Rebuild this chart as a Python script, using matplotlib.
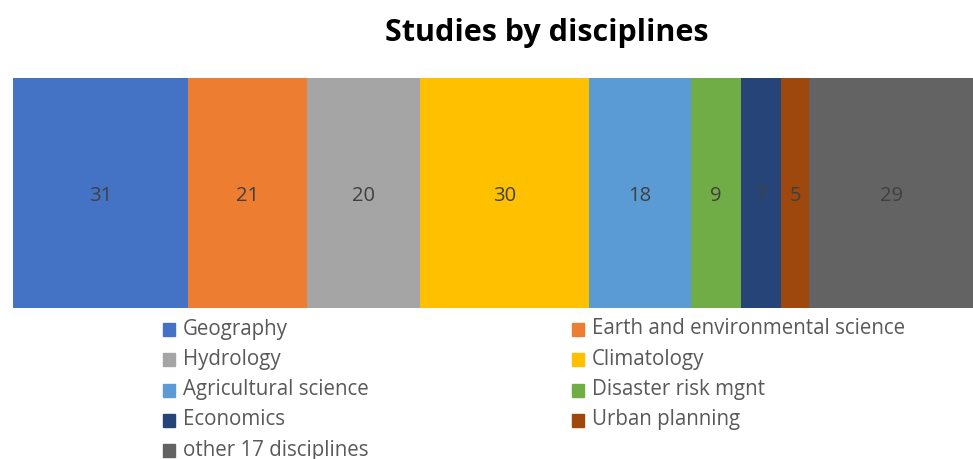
import matplotlib.pyplot as plt
from matplotlib.patches import Rectangle

disciplines = ["Geography", "Earth and environmental science", "Hydrology",
               "Climatology", "Agricultural science", "Disaster risk mgnt",
               "Economics", "Urban planning", "other 17 disciplines"]
studies = [31, 21, 20, 30, 18, 9, 7, 5, 29]
colors = ["#4472C4", "#ED7D31", "#A5A5A5", "#FFC000", "#5B9BD5",
          "#70AD47", "#264478", "#9E480E", "#636363"]

plt.rcParams['font.family'] = ['Open Sans', 'DejaVu Sans']

W, H = 973, 459
fig = plt.figure(figsize=(W / 100, H / 100), dpi=100)
ax = fig.add_axes([13 / W, 1 - 308 / H, 960 / W, 230 / H])

left = 0
for n, c in zip(studies, colors):
    ax.barh(0, n, left=left, height=1, color=c)
    ax.text(left + n / 2, -0.015, str(n), ha='center', va='center',
            fontsize=14.5, color='#404040')
    left += n
ax.set_xlim(0, sum(studies))
ax.set_ylim(-0.5, 0.5)
ax.axis('off')

fig.text(547 / W, 1 - 33 / H, "Studies by disciplines", ha='center', va='center',
         fontsize=22, fontweight='bold')

# two-column legend, filled row by row
col_x = [163, 572]
for i, (name, c) in enumerate(zip(disciplines, colors)):
    row, col = divmod(i, 2)
    y = 329 + row * 30.3
    x = col_x[col]
    fig.patches.append(Rectangle((x / W, 1 - (y + 7) / H), 12 / W, 13 / H,
                                 transform=fig.transFigure, color=c))
    fig.text((x + 20) / W, 1 - y / H, name, ha='left', va='center',
             fontsize=14.8, color='#595959')

fig.savefig("out.png", dpi=100)
